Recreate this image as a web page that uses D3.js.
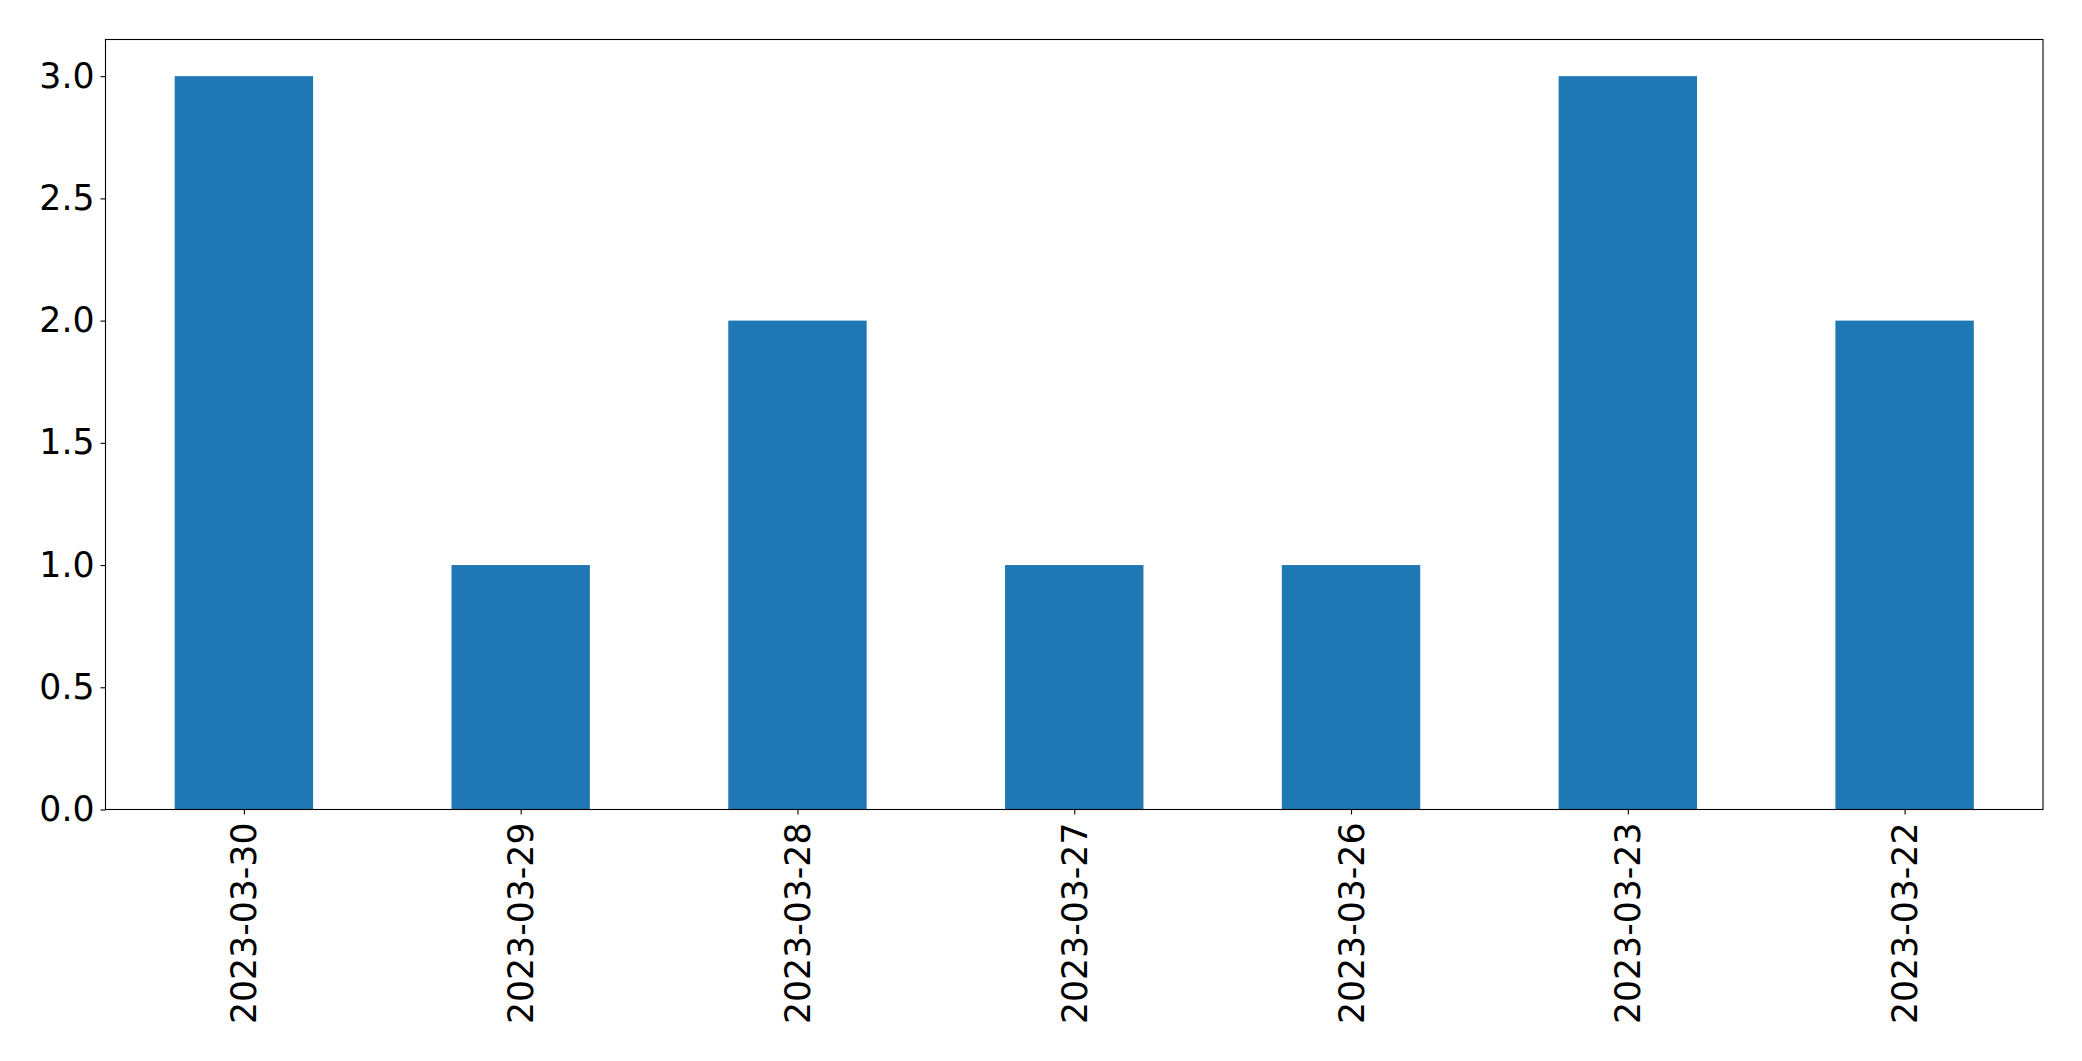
<!DOCTYPE html>
<html>
<head>
<meta charset="utf-8">
<script src="https://cdn.jsdelivr.net/npm/d3@7"></script>
<style>
  html, body { margin: 0; padding: 0; background: #fff; }
  svg { display: block; }
</style>
</head>
<body>
<script>
const categories = ["2023-03-30", "2023-03-29", "2023-03-28", "2023-03-27", "2023-03-26", "2023-03-23", "2023-03-22"];
const values = [3, 1, 2, 1, 1, 3, 2];
const yTicks = [0, 0.5, 1.0, 1.5, 2.0, 2.5, 3.0];

const W = 2082, H = 1061;
const margin = { left: 105.5, top: 39.5, right: W - 2043, bottom: H - 809.5 };
const iw = W - margin.left - margin.right;
const ih = H - margin.top - margin.bottom;

const svg = d3.select("body").append("svg").attr("width", W).attr("height", H);
const g = svg.append("g").attr("transform", `translate(${margin.left},${margin.top})`);

const x = d3.scaleLinear().domain([-0.5, categories.length - 0.5]).range([0, iw]);
const y = d3.scaleLinear().domain([0, d3.max(values) * 1.05]).range([ih, 0]);
const barW = 0.5;

g.selectAll("rect.bar").data(values).join("rect")
  .attr("class", "bar")
  .attr("x", (d, i) => x(i - barW / 2))
  .attr("width", (d, i) => x(i + barW / 2) - x(i - barW / 2))
  .attr("y", d => y(d))
  .attr("height", d => y(0) - y(d))
  .attr("fill", "#1f77b4");

const font = "'DejaVu Sans', sans-serif";
const fs = 34.7;

const yAxis = g.append("g").call(
  d3.axisLeft(y).tickValues(yTicks).tickFormat(d3.format(".1f")).tickSize(5).tickPadding(6)
);
yAxis.select(".domain").remove();
yAxis.selectAll("line").attr("stroke", "#000").attr("stroke-width", 1.1);
yAxis.selectAll("text").attr("font-family", font).attr("font-size", fs).attr("fill", "#000");

const xAxis = g.append("g").attr("transform", `translate(0,${ih})`).call(
  d3.axisBottom(x).tickValues(d3.range(categories.length)).tickFormat(i => categories[i]).tickSize(5).tickPadding(6)
);
xAxis.select(".domain").remove();
xAxis.selectAll("line").attr("stroke", "#000").attr("stroke-width", 1.1);
xAxis.selectAll("text")
  .attr("font-family", font).attr("font-size", fs).attr("fill", "#000")
  .attr("text-anchor", "end")
  .attr("dy", null)
  .attr("y", 0)
  .attr("transform", "translate(0,13) rotate(-90)")
  .attr("dominant-baseline", "central");

g.append("rect")
  .attr("x", 0).attr("y", 0).attr("width", iw).attr("height", ih)
  .attr("fill", "none").attr("stroke", "#000").attr("stroke-width", 1.1);
</script>
</body>
</html>
